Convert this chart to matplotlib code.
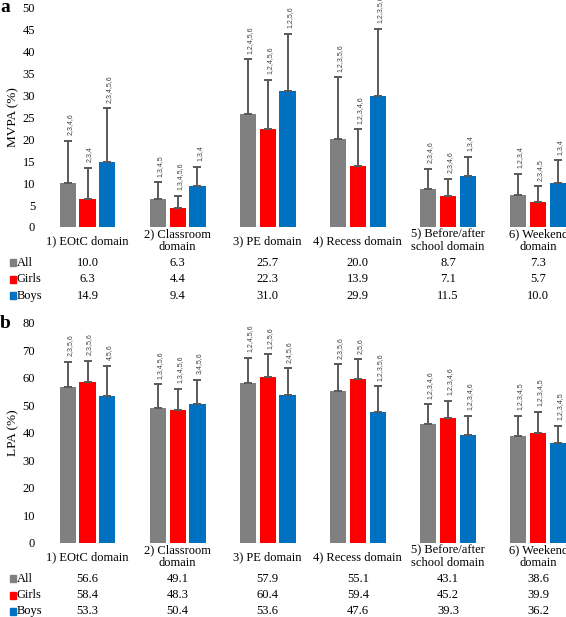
import matplotlib
matplotlib.use("Agg")
import matplotlib.pyplot as plt
import matplotlib.transforms as mtransforms
import numpy as np

plt.rcParams['font.family'] = ['Liberation Serif', 'DejaVu Serif']

# data
domains = ["1) EOtC domain", "2) Classroom\ndomain", "3) PE domain",
           "4) Recess domain", "5) Before/after\nschool domain", "6) Weekend\ndomain"]
groups = ["All", "Girls", "Boys"]

mvpa_all = [10.0, 6.3, 25.7, 20.0, 8.7, 7.3]
mvpa_girls = [6.3, 4.4, 22.3, 13.9, 7.1, 5.7]
mvpa_boys = [14.9, 9.4, 31.0, 29.9, 11.5, 10.0]
mvpa_sd_all = [9.6, 3.9, 12.5, 14.1, 4.6, 4.8]
mvpa_sd_girls = [7.2, 2.7, 11.2, 8.3, 3.9, 3.6]
mvpa_sd_boys = [12.1, 4.3, 13.0, 15.2, 4.5, 5.2]
mvpa_sig_all = ["2,3,4,6", "1,3,4,5", "1,2,4,5,6", "1,2,3,5,6", "2,3,4,6", "1,2,3,4"]
mvpa_sig_girls = ["2,3,4", "1,3,4,5,6", "1,2,4,5,6", "1,2,3,4,6", "2,3,4,6", "2,3,4,5"]
mvpa_sig_boys = ["2,3,4,5,6", "1,3,4", "1,2,5,6", "1,2,3,5,6", "1,3,4", "1,3,4"]

lpa_all = [56.6, 49.1, 57.9, 55.1, 43.1, 38.6]
lpa_girls = [58.4, 48.3, 60.4, 59.4, 45.2, 39.9]
lpa_boys = [53.3, 50.4, 53.6, 47.6, 39.3, 36.2]
lpa_sd_all = [9.2, 8.5, 9.4, 9.7, 7.2, 7.6]
lpa_sd_girls = [7.7, 7.7, 8.1, 7.3, 6.4, 7.7]
lpa_sd_boys = [11.1, 8.8, 9.8, 9.2, 6.8, 6.3]
lpa_sig_all = ["2,3,5,6", "1,3,4,5,6", "1,2,4,5,6", "2,3,5,6", "1,2,3,4,6", "1,2,3,4,5"]
lpa_sig_girls = ["2,3,5,6", "1,3,4,5,6", "1,2,5,6", "2,5,6", "1,2,3,4,6", "1,2,3,4,5"]
lpa_sig_boys = ["4,5,6", "3,4,5,6", "2,4,5,6", "1,2,3,5,6", "1,2,3,4,6", "1,2,3,4,5"]

colors = ["#808080", "#FF0000", "#0070C0"]
W, H = 566, 617
fs = 8.5

fig = plt.figure(figsize=(W / 100, H / 100), dpi=100)


def px_axes(left, top, right, bottom):
    return fig.add_axes([left / W, 1 - bottom / H, (right - left) / W, (bottom - top) / H])


def panel(ax, means, sds, sigs, ymax, ystep, ylabel, letter, letter_y, rows_y, cat_y):
    x = np.arange(len(domains))
    bw = 0.18
    pitch = 0.22
    for i in range(3):
        xi = x + (i - 1) * pitch
        ax.bar(xi, means[i], width=bw, color=colors[i], zorder=2)
        ax.errorbar(xi, means[i], yerr=[np.zeros(len(x)), sds[i]], fmt='none',
                    ecolor="#595959", elinewidth=1.4, capsize=3, capthick=1.4, zorder=3)
        for xx, m, s, t in zip(xi, means[i], sds[i], sigs[i]):
            ax.annotate(t, (xx, m + s), xytext=(1.5, 4), textcoords='offset points',
                        rotation=90, ha='center', va='bottom', fontsize=5,
                        family=['Liberation Sans'], color="#404040",
                        annotation_clip=False)
    ax.set_ylim(0, ymax)
    ax.set_xlim(-0.505, 5.31)
    ax.set_yticks(np.arange(0, ymax + 1, ystep))
    ax.tick_params(axis='y', length=0, labelsize=fs + 0.5, pad=5)
    ax.set_xticks([])
    for sp in ax.spines.values():
        sp.set_visible(False)
    ax.set_ylabel(ylabel, fontsize=fs + 1)
    ax.yaxis.set_label_coords(-0.044, 0.5)

    tr = mtransforms.blended_transform_factory(ax.transData, fig.transFigure)
    for xx, d in zip(x, domains):
        ax.text(xx, 1 - cat_y / H, d, transform=tr, ha='center', va='center',
                fontsize=fs + 0.5, linespacing=1.05, clip_on=False)
    trf = fig.transFigure
    for i, g in enumerate(groups):
        yy = 1 - rows_y[i] / H
        fig.patches.append(plt.Rectangle((9.5 / W, yy - 3.5 / H), 6.5 / W, 7 / H,
                                         transform=trf, color=colors[i]))
        fig.text(16.5 / W, yy, g, ha='left', va='center', fontsize=fs + 0.5)
        for xx, v in zip(x, means[i]):
            ax.text(xx, yy, f"{v:.1f}", transform=tr, ha='center', va='center',
                    fontsize=fs + 0.5, clip_on=False)
    fig.text(0, 1 - letter_y / H, letter, ha='left', va='center', fontsize=14,
             fontweight='bold')


ax_a = px_axes(42, 7.3, 566, 227)
panel(ax_a, [mvpa_all, mvpa_girls, mvpa_boys],
      [mvpa_sd_all, mvpa_sd_girls, mvpa_sd_boys],
      [mvpa_sig_all, mvpa_sig_girls, mvpa_sig_boys],
      50, 5, "MVPA (%)", "a", 7, [263, 279.5, 296], 241)

ax_b = px_axes(42, 322.7, 566, 542.5)
panel(ax_b, [lpa_all, lpa_girls, lpa_boys],
      [lpa_sd_all, lpa_sd_girls, lpa_sd_boys],
      [lpa_sig_all, lpa_sig_girls, lpa_sig_boys],
      80, 10, "LPA (%)", "b", 324, [578.5, 595, 611], 557)

fig.savefig("out.png", dpi=100, facecolor="w")
